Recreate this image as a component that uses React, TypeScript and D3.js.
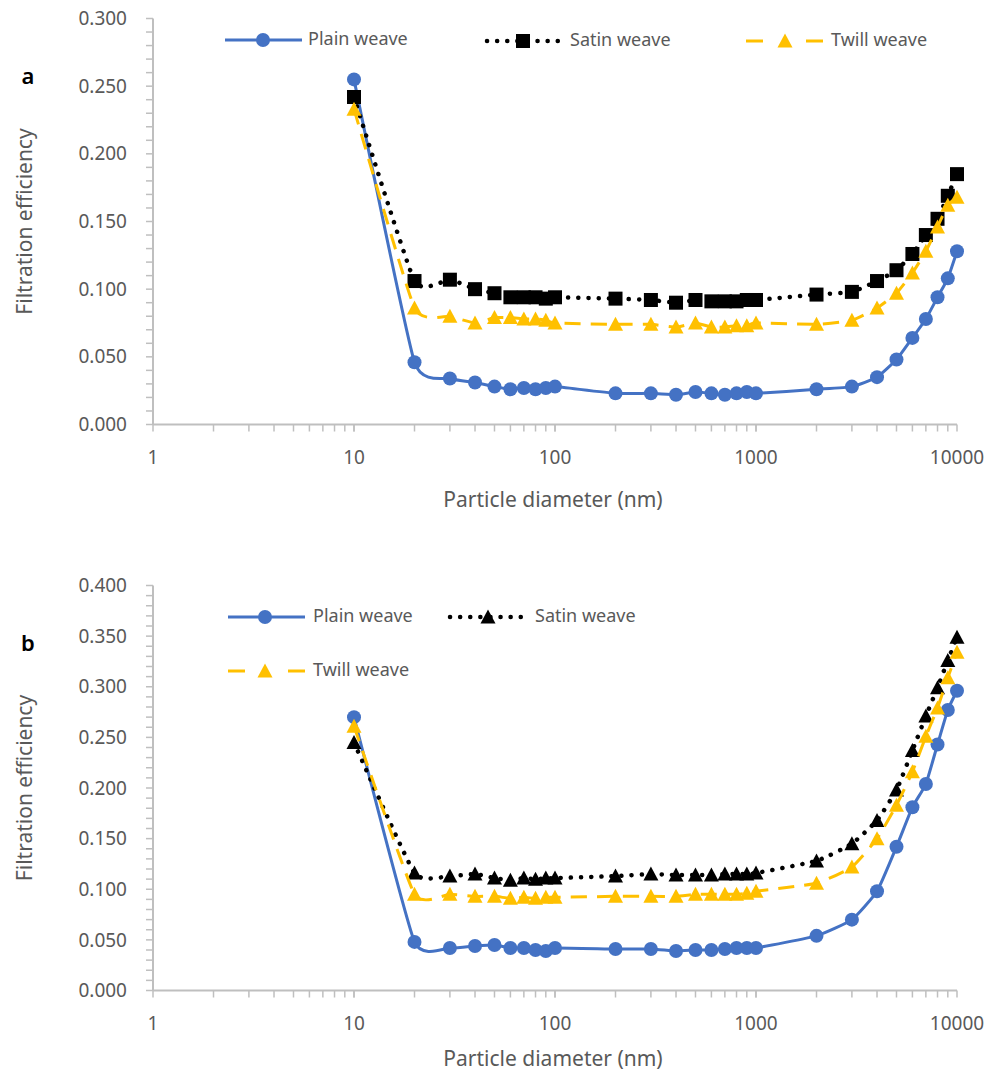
import React from "react";
import * as d3 from "d3";

// Particle diameters (nm) shared by every series
const diameters = [10, 20, 30, 40, 50, 60, 70, 80, 90, 100, 200, 300, 400, 500, 600, 700, 800, 900, 1000, 2000, 3000, 4000, 5000, 6000, 7000, 8000, 9000, 10000];

// Panel a
const plainA = [0.255, 0.046, 0.034, 0.031, 0.028, 0.026, 0.027, 0.026, 0.027, 0.028, 0.023, 0.023, 0.022, 0.024, 0.023, 0.022, 0.023, 0.024, 0.023, 0.026, 0.028, 0.035, 0.048, 0.064, 0.078, 0.094, 0.108, 0.128];
const satinA = [0.242, 0.106, 0.107, 0.100, 0.097, 0.094, 0.094, 0.094, 0.093, 0.094, 0.093, 0.092, 0.090, 0.092, 0.091, 0.091, 0.091, 0.092, 0.092, 0.096, 0.098, 0.106, 0.114, 0.126, 0.140, 0.152, 0.169, 0.185];
const twillA = [0.233, 0.086, 0.080, 0.075, 0.079, 0.079, 0.078, 0.078, 0.077, 0.075, 0.074, 0.074, 0.072, 0.075, 0.072, 0.072, 0.073, 0.073, 0.075, 0.074, 0.077, 0.086, 0.097, 0.112, 0.128, 0.146, 0.162, 0.168];

// Panel b
const plainB = [0.270, 0.048, 0.042, 0.044, 0.045, 0.042, 0.042, 0.040, 0.039, 0.042, 0.041, 0.041, 0.039, 0.040, 0.040, 0.041, 0.042, 0.042, 0.042, 0.054, 0.070, 0.098, 0.142, 0.181, 0.204, 0.243, 0.277, 0.296];
const satinB = [0.245, 0.116, 0.113, 0.115, 0.111, 0.109, 0.111, 0.110, 0.111, 0.111, 0.113, 0.115, 0.114, 0.114, 0.114, 0.115, 0.115, 0.115, 0.116, 0.128, 0.145, 0.168, 0.198, 0.237, 0.271, 0.299, 0.326, 0.349];
const twillB = [0.261, 0.095, 0.095, 0.093, 0.093, 0.091, 0.092, 0.091, 0.092, 0.092, 0.093, 0.093, 0.093, 0.095, 0.095, 0.095, 0.095, 0.096, 0.098, 0.106, 0.122, 0.150, 0.183, 0.216, 0.251, 0.279, 0.309, 0.334];

const xDecades = [1, 10, 100, 1000, 10000];
const yTicksA = [0, 0.05, 0.1, 0.15, 0.2, 0.25, 0.3];
const yTicksB = [0, 0.05, 0.1, 0.15, 0.2, 0.25, 0.3, 0.35, 0.4];

const FONT = "'Noto Sans', 'Open Sans', sans-serif";
const GREY = "#595959";
const AXIS = "#BFBFBF";
const BLUE = "#4472C4";
const GOLD = "#FFC000";

type Marker = "circle" | "square" | "triangle";
interface Series {
  name: string;
  values: number[];
  color: string;
  width: number;
  dash?: string;
  cap?: "round" | "butt";
  marker: Marker;
  markerColor: string;
  legendStyle: "solid" | "dots" | "dashes";
}

function MarkerShape({ type, x, y, color }: { type: Marker; x: number; y: number; color: string }) {
  if (type === "circle") return <circle cx={x} cy={y} r={7} fill={color} />;
  if (type === "square") return <rect x={x - 7} y={y - 7} width={14} height={14} fill={color} />;
  const h = 13;
  const w = 15;
  return <path d={`M${x},${y - h / 2 - 1} L${x + w / 2},${y + h / 2} L${x - w / 2},${y + h / 2} Z`} fill={color} />;
}

interface LegendItem {
  series: Series;
  x0: number;
  x1: number;
  mx: number;
  tx: number;
  y: number;
}

function LegendSample({ l }: { l: LegendItem }) {
  const s = l.series;
  if (s.legendStyle === "dashes") {
    return (
      <g>
        <line x1={l.x0} x2={l.x0 + 17} y1={l.y} y2={l.y} stroke={s.color} strokeWidth={s.width} />
        <line x1={l.x1 - 17} x2={l.x1} y1={l.y} y2={l.y} stroke={s.color} strokeWidth={s.width} />
      </g>
    );
  }
  return (
    <line
      x1={l.x0}
      x2={l.x1}
      y1={l.y}
      y2={l.y}
      stroke={s.color}
      strokeWidth={s.width}
      strokeDasharray={s.dash}
      strokeLinecap={s.cap || "butt"}
    />
  );
}

function Panel({
  series,
  yMax,
  yTicks,
  top,
  bottom,
  letter,
  letterY,
  titleOffset,
  legend,
}: {
  series: Series[];
  yMax: number;
  yTicks: number[];
  top: number;
  bottom: number;
  letter: string;
  letterY: number;
  titleOffset: number;
  legend: LegendItem[];
}) {
  const x = d3.scaleLog().domain([1, 10000]).range([153, 957]);
  const y = d3.scaleLinear().domain([0, yMax]).range([bottom, top]);

  const line = d3
    .line<number>()
    .x((_, i) => x(diameters[i]))
    .y((v) => y(v))
    .curve(d3.curveCardinal.tension(0.55));

  const minorY = d3.range(0, Math.round(yMax / 0.01) + 1).map((i) => i * 0.01);
  const minorX: number[] = [];
  for (let d = 1; d < 10000; d *= 10) for (let k = 1; k <= 10; k++) minorX.push(d * k);

  const fmt = d3.format(".3f");

  return (
    <g>
      {/* axes */}
      <line x1={x(1)} x2={x(1)} y1={top} y2={bottom} stroke={AXIS} strokeWidth={2} />
      <line x1={x(1)} x2={x(10000)} y1={bottom} y2={bottom} stroke={AXIS} strokeWidth={2} />
      {minorY.map((v, i) => (
        <line key={"my" + i} x1={x(1) - 7} x2={x(1)} y1={y(v)} y2={y(v)} stroke={AXIS} strokeWidth={1.5} />
      ))}
      {minorX.map((v, i) => (
        <line key={"mx" + i} x1={x(v)} x2={x(v)} y1={bottom} y2={bottom + 7} stroke={AXIS} strokeWidth={1.5} />
      ))}
      {yTicks.map((v) => (
        <text key={"yt" + v} x={127} y={y(v)} dy="0.35em" textAnchor="end" fontSize={19} fill={GREY} fontFamily={FONT}>
          {fmt(v)}
        </text>
      ))}
      {xDecades.map((v) => (
        <text key={"xt" + v} x={x(v)} y={bottom + 33} dy="0.35em" textAnchor="middle" fontSize={19} fill={GREY} fontFamily={FONT}>
          {v}
        </text>
      ))}
      <text x={553} y={bottom + titleOffset} dy="0.35em" textAnchor="middle" fontSize={21} fill={GREY} fontFamily={FONT}>
        Particle diameter (nm)
      </text>
      <text
        transform={`translate(25,${(top + bottom) / 2}) rotate(-90)`}
        dy="0.35em"
        textAnchor="middle"
        fontSize={21}
        fill={GREY}
        fontFamily={FONT}
      >
        Filtration efficiency
      </text>
      <text x={28} y={letterY} dy="0.35em" textAnchor="middle" fontSize={22} fontWeight={600} fill="#000" fontFamily={FONT}>
        {letter}
      </text>

      {/* series lines and markers */}
      {series.map((s) => (
        <g key={s.name}>
          <path
            d={line(s.values) || ""}
            fill="none"
            stroke={s.color}
            strokeWidth={s.width}
            strokeDasharray={s.dash}
            strokeLinecap={s.cap || "butt"}
          />
          {s.values.map((v, i) => (
            <MarkerShape key={i} type={s.marker} x={x(diameters[i])} y={y(v)} color={s.markerColor} />
          ))}
        </g>
      ))}

      {/* legend */}
      {legend.map((l) => (
        <g key={"lg" + l.series.name}>
          <LegendSample l={l} />
          <MarkerShape type={l.series.marker} x={l.mx} y={l.y} color={l.series.markerColor} />
          <text x={l.tx} y={l.y} dy="0.3em" fontSize={18} fill={GREY} fontFamily={FONT}>
            {l.series.name}
          </text>
        </g>
      ))}
    </g>
  );
}

const plainStyle = { name: "Plain weave", color: BLUE, width: 3, marker: "circle" as Marker, markerColor: BLUE, legendStyle: "solid" as const };
const satinStyle = { name: "Satin weave", color: "#000", width: 4.5, dash: "0.1 10", cap: "round" as const, markerColor: "#000", legendStyle: "dots" as const };
const twillStyle = { name: "Twill weave", color: GOLD, width: 3, dash: "16 10", marker: "triangle" as Marker, markerColor: GOLD, legendStyle: "dashes" as const };

export default function App() {
  const seriesA: Series[] = [
    { ...plainStyle, values: plainA },
    { ...satinStyle, values: satinA, marker: "square" },
    { ...twillStyle, values: twillA },
  ];
  const seriesB: Series[] = [
    { ...plainStyle, values: plainB },
    { ...satinStyle, values: satinB, marker: "triangle" },
    { ...twillStyle, values: twillB },
  ];

  const legendA: LegendItem[] = [
    { series: seriesA[0], x0: 225, x1: 302, mx: 263, tx: 308, y: 40 },
    { series: seriesA[1], x0: 487, x1: 560, mx: 523, tx: 570, y: 41 },
    { series: seriesA[2], x0: 746, x1: 823, mx: 785, tx: 831, y: 41 },
  ];
  const legendB: LegendItem[] = [
    { series: seriesB[0], x0: 228, x1: 305, mx: 265, tx: 313, y: 617 },
    { series: seriesB[1], x0: 450, x1: 527, mx: 488, tx: 535, y: 617 },
    { series: seriesB[2], x0: 228, x1: 305, mx: 265, tx: 313, y: 671 },
  ];

  return (
    <svg width={995} height={1079} viewBox="0 0 995 1079" style={{ position: "absolute", left: 0, top: 0, background: "#fff" }}>
      <rect width={995} height={1079} fill="#fff" />
      <Panel series={seriesA} yMax={0.3} yTicks={yTicksA} top={18.5} bottom={424.5} letter="a" letterY={76} titleOffset={75} legend={legendA} />
      <Panel series={seriesB} yMax={0.4} yTicks={yTicksB} top={585.5} bottom={990.5} letter="b" letterY={643} titleOffset={68} legend={legendB} />
    </svg>
  );
}
